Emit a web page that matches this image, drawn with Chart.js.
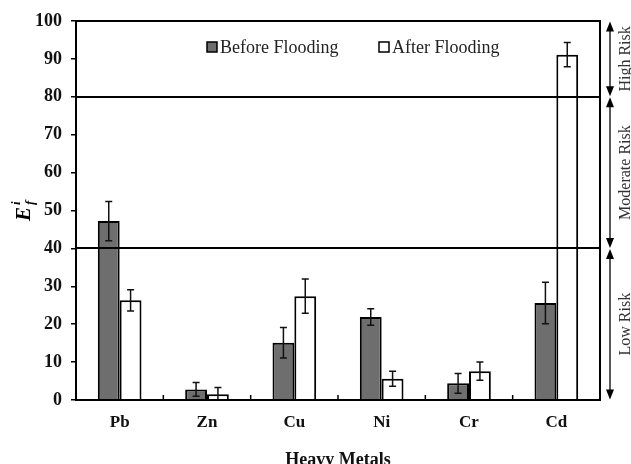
<!DOCTYPE html>
<html>
<head>
<meta charset="utf-8">
<script src="https://cdn.jsdelivr.net/npm/chart.js@4.4.0/dist/chart.umd.min.js"></script>
<style>
  html, body { margin: 0; padding: 0; background: #fff; }
  #wrap { width: 631px; height: 464px; }
</style>
</head>
<body>
<div id="wrap"><canvas id="chart"></canvas></div>
<script>
// data
const metals = ['Pb', 'Zn', 'Cu', 'Ni', 'Cr', 'Cd'];
const beforeFlooding = [47.2, 2.8, 15.1, 21.9, 4.4, 25.6];
const beforeErr = [5.2, 1.8, 4.0, 2.2, 2.6, 5.5];
const afterFlooding = [26.3, 1.5, 27.4, 5.6, 7.6, 91.1];
const afterErr = [2.8, 1.8, 4.5, 2.0, 2.4, 3.2];
const yTicks = [0, 10, 20, 30, 40, 50, 60, 70, 80, 90, 100];
const riskLimits = [0, 40, 80, 100];
const riskNames = ['Low Risk', 'Moderate Risk', 'High Risk'];

const serif = '"Liberation Serif", "DejaVu Serif", serif';

// whiskers for each bar
const errorBars = {
    id: 'errorBars',
    afterDatasetsDraw(chart) {
        const ctx = chart.ctx;
        const y = chart.scales.y;
        const errs = [beforeErr, afterErr];
        ctx.save();
        ctx.strokeStyle = '#111';
        ctx.lineWidth = 1.5;
        chart.data.datasets.forEach((ds, di) => {
            chart.getDatasetMeta(di).data.forEach((bar, i) => {
                const v = ds.data[i], e = errs[di][i];
                const top = y.getPixelForValue(v + e);
                const bot = y.getPixelForValue(Math.max(0, v - e));
                ctx.beginPath();
                ctx.moveTo(bar.x, top); ctx.lineTo(bar.x, bot);
                ctx.moveTo(bar.x - 3.5, top); ctx.lineTo(bar.x + 3.5, top);
                ctx.moveTo(bar.x - 3.5, bot); ctx.lineTo(bar.x + 3.5, bot);
                ctx.stroke();
            });
        });
        ctx.restore();
    }
};

// threshold lines, frame, risk arrows, legend, axis titles
const decorations = {
    id: 'decorations',
    afterDatasetsDraw(chart) {
        const ctx = chart.ctx;
        const a = chart.chartArea;
        const x = chart.scales.x, y = chart.scales.y;
        ctx.save();
        ctx.strokeStyle = '#000';
        ctx.lineWidth = 2;
        // risk thresholds
        riskLimits.slice(1, -1).forEach(v => {
            const py = Math.round(y.getPixelForValue(v));
            ctx.beginPath(); ctx.moveTo(a.left, py); ctx.lineTo(a.right, py); ctx.stroke();
        });
        // frame
        ctx.strokeRect(a.left, a.top, a.right - a.left, a.bottom - a.top);
        // inward ticks between categories
        ctx.lineWidth = 1.5;
        for (let i = 1; i < metals.length; i++) {
            const px = (x.getPixelForValue(i - 1) + x.getPixelForValue(i)) / 2;
            ctx.beginPath(); ctx.moveTo(px, a.bottom); ctx.lineTo(px, a.bottom - 5); ctx.stroke();
        }
        // risk arrows on the right
        const ax = a.right + 10;
        ctx.fillStyle = '#000';
        ctx.lineWidth = 1.3;
        for (let i = 0; i < riskNames.length; i++) {
            const yb = y.getPixelForValue(riskLimits[i]) - 0.5;
            const yt = y.getPixelForValue(riskLimits[i + 1]) + 0.5;
            ctx.beginPath(); ctx.moveTo(ax, yt + 4); ctx.lineTo(ax, yb - 4); ctx.stroke();
            ctx.beginPath(); ctx.moveTo(ax, yt); ctx.lineTo(ax - 4, yt + 10); ctx.lineTo(ax + 4, yt + 10); ctx.closePath(); ctx.fill();
            ctx.beginPath(); ctx.moveTo(ax, yb); ctx.lineTo(ax - 4, yb - 10); ctx.lineTo(ax + 4, yb - 10); ctx.closePath(); ctx.fill();
            ctx.save();
            ctx.translate(a.right + 26, (yt + yb) / 2);
            ctx.rotate(-Math.PI / 2);
            ctx.font = '16px ' + serif;
            ctx.fillStyle = '#333';
            ctx.textAlign = 'center';
            ctx.textBaseline = 'middle';
            ctx.fillText(riskNames[i], 0, 0);
            ctx.restore();
        }
        // legend
        ctx.font = '18px ' + serif;
        ctx.textBaseline = 'middle';
        ctx.textAlign = 'left';
        const legendY = a.top + 26;
        const items = [
            { x: 212, fill: '#6e6e6e', label: chart.data.datasets[0].label },
            { x: 384, fill: '#ffffff', label: chart.data.datasets[1].label }
        ];
        ctx.lineWidth = 1.5;
        items.forEach(it => {
            ctx.fillStyle = it.fill;
            ctx.fillRect(it.x - 5, legendY - 5, 10, 10);
            ctx.strokeRect(it.x - 5, legendY - 5, 10, 10);
            ctx.fillStyle = '#222';
            ctx.fillText(it.label, it.x + 8, legendY + 1);
        });
        // y title E_f^i
        ctx.save();
        ctx.translate(24, 212);
        ctx.rotate(-Math.PI / 2);
        ctx.fillStyle = '#000';
        ctx.font = 'italic bold 21px ' + serif;
        ctx.textAlign = 'left';
        ctx.textBaseline = 'alphabetic';
        ctx.fillText('E', -9, 6);
        ctx.font = 'italic bold 13px ' + serif;
        ctx.fillText('i', 7, -4);
        ctx.fillText('f', 7, 10);
        ctx.restore();
        // x title
        ctx.fillStyle = '#111';
        ctx.font = 'bold 18px ' + serif;
        ctx.textAlign = 'center';
        ctx.fillText('Heavy Metals', (a.left + a.right) / 2, 460);
        ctx.restore();
    }
};

new Chart(document.getElementById('chart'), {
    type: 'bar',
    data: {
        labels: metals,
        datasets: [
            {
                label: 'Before Flooding',
                data: beforeFlooding,
                backgroundColor: '#6e6e6e',
                borderColor: '#000',
                borderWidth: 2,
                categoryPercentage: 0.5,
                barPercentage: 1.0
            },
            {
                label: 'After Flooding',
                data: afterFlooding,
                backgroundColor: '#ffffff',
                borderColor: '#000',
                borderWidth: 2,
                categoryPercentage: 0.5,
                barPercentage: 1.0
            }
        ]
    },
    options: {
        responsive: true,
        maintainAspectRatio: false,
        animation: false,
        devicePixelRatio: 1,
        layout: { padding: { top: 21, right: 31, left: 0, bottom: 0 } },
        plugins: {
            legend: { display: false },
            tooltip: { enabled: false }
        },
        scales: {
            x: {
                grid: { display: false, drawTicks: false },
                border: { color: '#000', width: 2 },
                ticks: {
                    color: '#111',
                    padding: 12,
                    font: { family: serif, size: 17, weight: 'bold' }
                },
                afterFit(s) { s.height = 64; }
            },
            y: {
                min: 0,
                max: 100,
                afterBuildTicks(s) { s.ticks = yTicks.map(v => ({ value: v })); },
                grid: { drawOnChartArea: false, tickLength: 5, tickColor: '#000', lineWidth: 1.5 },
                border: { color: '#000', width: 2 },
                ticks: {
                    color: '#111',
                    padding: 9,
                    font: { family: serif, size: 18, weight: 'bold' }
                },
                afterFit(s) { s.width = 76; }
            }
        }
    },
    plugins: [errorBars, decorations]
});
</script>
</body>
</html>
